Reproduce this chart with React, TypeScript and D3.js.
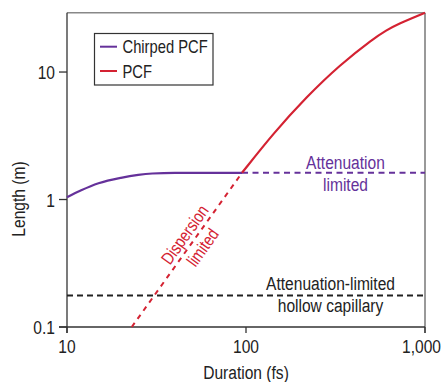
import React from "react";
import * as d3 from "d3";

const chirpedSolid: [number, number][] = [
  [10, 1.04], [12, 1.18], [15, 1.34], [20, 1.48], [25, 1.56], [30, 1.6], [40, 1.62], [95, 1.62],
];
const chirpedDashed: [number, number][] = [[95, 1.62], [1000, 1.62]];
const pcfSolid: [number, number][] = [
  [95, 1.62], [142, 3.3], [218, 6.4], [335, 11.4], [514, 18.3], [611, 21.3], [695, 23.6], [1000, 29.2],
];
const pcfDashed: [number, number][] = [[23, 0.1], [95, 1.62]];
const capillary: [number, number][] = [[10, 0.177], [1000, 0.177]];
const xTicks = [10, 100, 1000];
const xTickLabels = ["10", "100", "1,000"];
const yTicks = [0.1, 1, 10];
const yTickLabels = ["0.1", "1", "10"];
const legendItems = ["Chirped PCF", "PCF"];

const W = 442, H = 382;
const M = { left: 67, right: 425, top: 12.7, bottom: 327 };
const PURPLE = "#65319a";
const RED = "#d42232";
const FONT = "'Liberation Sans', Arial, sans-serif";
const SX = 0.82;

function T(props: { x: number; y: number; anchor?: string; size: number; fill: string; rotate?: number; children: React.ReactNode }) {
  const { x, y, anchor = "start", size, fill, rotate, children } = props;
  const tr = `translate(${x},${y})${rotate !== undefined ? ` rotate(${rotate})` : ""} scale(${SX},1)`;
  return (
    <text transform={tr} textAnchor={anchor} fontSize={size} fill={fill}>{children}</text>
  );
}

export default function App() {
  const x = d3.scaleLog().domain([10, 1000]).range([M.left, M.right]);
  const y = d3.scaleLog().domain([0.1, 29.2]).range([M.bottom, M.top]);
  const line = d3.line<[number, number]>().x(d => x(d[0])).y(d => y(d[1])).curve(d3.curveMonotoneX);
  const smooth = d3.line<[number, number]>().x(d => x(d[0])).y(d => y(d[1])).curve(d3.curveBasis);
  const straight = d3.line<[number, number]>().x(d => x(d[0])).y(d => y(d[1]));

  const p0 = [x(pcfDashed[0][0]), y(pcfDashed[0][1])];
  const p1 = [x(pcfDashed[1][0]), y(pcfDashed[1][1])];
  const ang = Math.atan2(p1[1] - p0[1], p1[0] - p0[0]) * 180 / Math.PI;
  const len = Math.hypot(p1[0] - p0[0], p1[1] - p0[1]);
  const t = 106 / len;
  const cx = p0[0] + (p1[0] - p0[0]) * t;
  const cy = p0[1] + (p1[1] - p0[1]) * t;

  const fs = 19;
  return (
    <svg width={W} height={H} style={{ position: "absolute", left: 0, top: 0 }} fontFamily={FONT}>
      <rect width={W} height={H} fill="#fff" />
      <line x1={M.left} x2={M.right} y1={M.top} y2={M.top} stroke="#888" strokeWidth={1.5} />
      <line x1={M.right} x2={M.right} y1={M.top} y2={M.bottom + 6} stroke="#777" strokeWidth={1.5} />
      <line x1={M.left} x2={M.left} y1={M.top} y2={M.bottom + 6} stroke="#333" strokeWidth={1.3} />
      <line x1={M.left - 8} x2={M.right} y1={M.bottom} y2={M.bottom} stroke="#333" strokeWidth={1.3} />
      {xTicks.map((v, i) => (
        <g key={"xt" + i}>
          <line x1={x(v)} x2={x(v)} y1={M.bottom} y2={M.bottom + 6} stroke="#333" strokeWidth={1.3} />
          {i === xTicks.length - 1 ? (
            <T x={441} y={353} anchor="end" size={fs} fill="#222">{xTickLabels[i]}</T>
          ) : (
            <T x={x(v)} y={353} anchor="middle" size={fs} fill="#222">{xTickLabels[i]}</T>
          )}
        </g>
      ))}
      {yTicks.map((v, i) => (
        <g key={"yt" + i}>
          <line x1={M.left - 8} x2={M.left} y1={y(v)} y2={y(v)} stroke="#333" strokeWidth={1.3} />
          <T x={55} y={y(v) + 7} anchor="end" size={fs} fill="#222">{yTickLabels[i]}</T>
        </g>
      ))}
      <T x={(M.left + M.right) / 2} y={379} anchor="middle" size={19} fill="#222">Duration (fs)</T>
      <T x={25} y={199} rotate={-90} anchor="middle" size={19} fill="#222">Length (m)</T>

      <path d={straight(capillary)!} fill="none" stroke="#222" strokeWidth={2} strokeDasharray="6,4" />
      <path d={straight(chirpedDashed)!} fill="none" stroke={PURPLE} strokeWidth={2} strokeDasharray="6,4.5" />
      <path d={straight(pcfDashed)!} fill="none" stroke={RED} strokeWidth={2} strokeDasharray="5,5" />
      <path d={line(chirpedSolid)!} fill="none" stroke={PURPLE} strokeWidth={2.2} />
      <path d={smooth(pcfSolid)!} fill="none" stroke={RED} strokeWidth={2.2} />

      <T x={345.5} y={169} anchor="middle" size={fs} fill={PURPLE}>Attenuation</T>
      <T x={345.5} y={191} anchor="middle" size={fs} fill={PURPLE}>limited</T>
      <T x={330.5} y={290} anchor="middle" size={fs} fill="#222">Attenuation-limited</T>
      <T x={330.5} y={312} anchor="middle" size={fs} fill="#222">hollow capillary</T>
      <g transform={`translate(${cx},${cy}) rotate(${ang})`}>
        <T x={0} y={-4.5} anchor="middle" size={17.5} fill={RED}>Dispersion</T>
        <T x={0} y={17.5} anchor="middle" size={17.5} fill={RED}>limited</T>
      </g>

      <rect x={94.5} y={33.5} width={118.5} height={51.5} fill="#fff" stroke="#333" strokeWidth={1.2} />
      {legendItems.map((name, i) => (
        <g key={name}>
          <line x1={100} x2={117} y1={46.7 + i * 24.3} y2={46.7 + i * 24.3} stroke={i === 0 ? PURPLE : RED} strokeWidth={2} />
          <T x={122.5} y={53.3 + i * 24.3} size={18} fill="#222">{name}</T>
        </g>
      ))}
    </svg>
  );
}
